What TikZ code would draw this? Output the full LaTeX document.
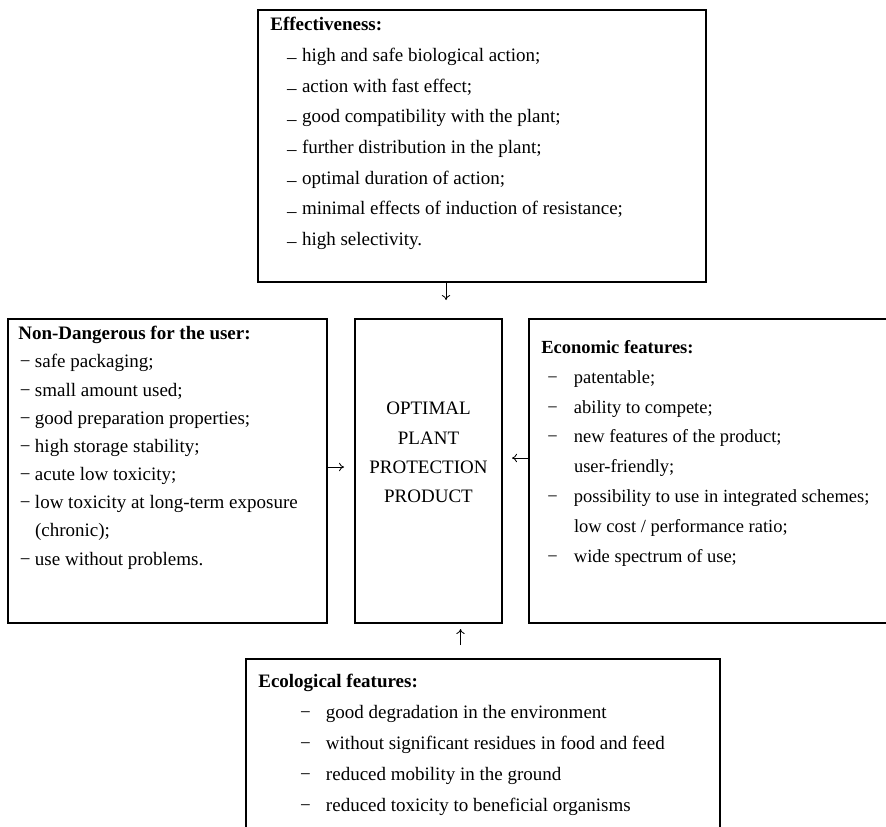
\documentclass[tikz,border=0pt]{standalone}
\usepackage{fontspec}
\setmainfont{Liberation Serif}
\usetikzlibrary{fit,arrows.meta}
\tikzset{
  box/.style={draw, line width=0.8pt, inner sep=0pt},
  list/.style={anchor=north west, align=left, inner sep=0pt},
  arr/.style={-{To[length=3pt,width=5pt]}, line width=0.5pt},
}
% indent, then a dash in a box of given width
\newcommand{\itm}[3]{\hspace*{#1}\makebox[#2][l]{#3}}
\begin{document}
\begin{tikzpicture}[x=0.6pt,y=-0.6pt]
\useasboundingbox (0,0) rectangle (886,827);
% boxes
\node[box, fit={(258,10) (706,282)}] (eff) {};
\node[box, fit={(8,319) (327,623)}] (user) {};
\node[box, fit={(355,319) (502,623)}] (prod) {};
\node[box, fit={(529,319) (910,623)}] (econ) {};
\node[box, fit={(246,659) (720,870)}] (ecol) {};
% texts
\node[list, font=\fontsize{11.4}{18.4}\selectfont] (effTxt) at (270,17) {\textbf{Effectiveness:}\\
  \itm{10pt}{9pt}{\raisebox{-0.3ex}{–}}high and safe biological action;\\
  \itm{10pt}{9pt}{\raisebox{-0.3ex}{–}}action with fast effect;\\
  \itm{10pt}{9pt}{\raisebox{-0.3ex}{–}}good compatibility with the plant;\\
  \itm{10pt}{9pt}{\raisebox{-0.3ex}{–}}further distribution in the plant;\\
  \itm{10pt}{9pt}{\raisebox{-0.3ex}{–}}optimal duration of action;\\
  \itm{10pt}{9pt}{\raisebox{-0.3ex}{–}}minimal effects of induction of resistance;\\
  \itm{10pt}{9pt}{\raisebox{-0.3ex}{–}}high selectivity.};
\node[list, font=\fontsize{11.4}{16.9}\selectfont] (userTxt) at (18,326) {\textbf{Non-Dangerous for the user:}\\
  \itm{1pt}{9pt}{−}safe packaging;\\
  \itm{1pt}{9pt}{−}small amount used;\\
  \itm{1pt}{9pt}{−}good preparation properties;\\
  \itm{1pt}{9pt}{−}high storage stability;\\
  \itm{1pt}{9pt}{−}acute low toxicity;\\
  \itm{1pt}{9pt}{−}low toxicity at long-term exposure\\
  \itm{1pt}{9pt}{}(chronic);\\
  \itm{1pt}{9pt}{−}use without problems.};
\node[anchor=north, align=center, inner sep=0pt, font=\fontsize{11.4}{17.6}\selectfont] (prodTxt) at (428.5,402) {OPTIMAL\\PLANT\\PROTECTION\\PRODUCT};
\node[list, font=\fontsize{11.1}{17.9}\selectfont] (econTxt) at (541,340) {\textbf{Economic features:}\\
  \itm{3.6pt}{16pt}{−}patentable;\\
  \itm{3.6pt}{16pt}{−}ability to compete;\\
  \itm{3.6pt}{16pt}{−}new features of the product;\\
  \itm{3.6pt}{16pt}{}user-friendly;\\
  \itm{3.6pt}{16pt}{−}possibility to use in integrated schemes;\\
  \itm{3.6pt}{16pt}{}low cost / performance ratio;\\
  \itm{3.6pt}{16pt}{−}wide spectrum of use;};
\node[list, font=\fontsize{11.4}{18.6}\selectfont] (ecolTxt) at (258,674) {\textbf{Ecological features:}\\
  \itm{25pt}{15.6pt}{−}good degradation in the environment\\
  \itm{25pt}{15.6pt}{−}without significant residues in food and feed\\
  \itm{25pt}{15.6pt}{−}reduced mobility in the ground\\
  \itm{25pt}{15.6pt}{−}reduced toxicity to beneficial organisms};
% arrows
\coordinate (effArr) at (446,300);
\draw[arr] (effArr |- eff.south) -- (effArr);
\coordinate (userArr) at (344,467);
\draw[arr] (userArr -| user.east) -- (userArr);
\coordinate (econArr) at (512,458);
\draw[arr] (econArr -| econ.west) -- (econArr);
\coordinate (ecolTail) at (460.5,645);
\coordinate (ecolHead) at (460.5,629);
\draw[arr] (ecolTail) -- (ecolHead);
\end{tikzpicture}
\end{document}
